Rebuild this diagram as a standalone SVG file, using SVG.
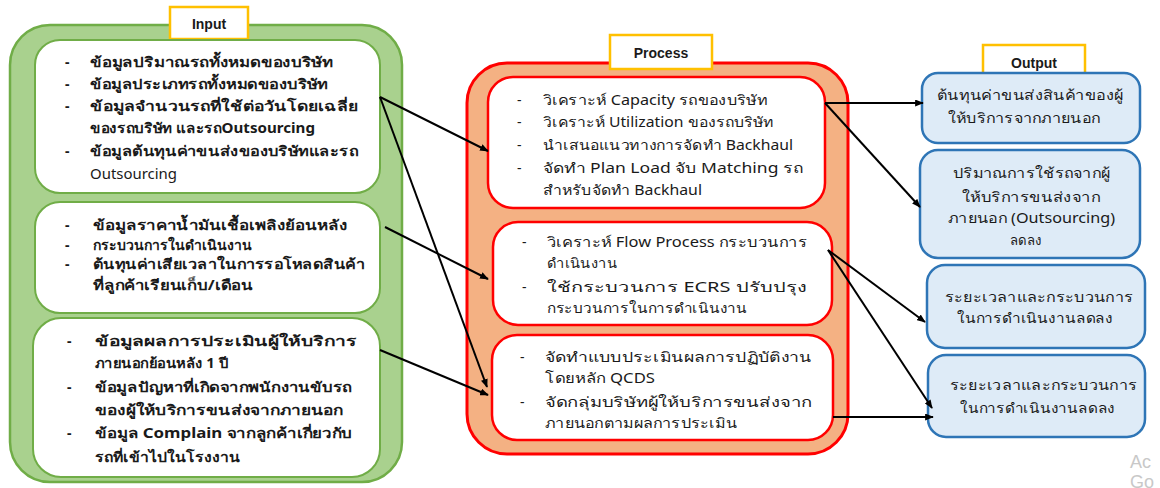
<svg xmlns="http://www.w3.org/2000/svg" width="1160" height="488" viewBox="0 0 1160 488">
<style>
  .t { font-family: "Noto Sans", "DejaVu Sans", sans-serif; font-size: 14px; fill: #1a1a1a; }
  .b { font-weight: bold; }
  .lbl { font-family: "Liberation Sans", Arial, sans-serif; font-size: 14px; font-weight: bold; fill: #1a1a1a; text-anchor: middle; }
  .lblbox { fill: #ffffff; stroke: #FFC000; stroke-width: 2.5; }
  .gout { fill: #A9D18E; stroke: #70AD47; stroke-width: 2.5; }
  .gin { fill: #ffffff; stroke: #70AD47; stroke-width: 2; }
  .rout { fill: #F4B183; stroke: #FF0000; stroke-width: 3; }
  .rin { fill: #ffffff; stroke: #FF0000; stroke-width: 2.5; }
  .bbox { fill: #DEEBF7; stroke: #2E75B6; stroke-width: 2.5; }
  .conn { stroke: #000000; stroke-width: 2; fill: none; marker-end: url(#ah); }
  .wm { font-family: "Liberation Sans", Arial, sans-serif; font-size: 18px; fill: #c8c8c8; }
</style>
<defs>
  <marker id="ah" viewBox="0 0 10 8" refX="9" refY="4" markerWidth="9" markerHeight="7" markerUnits="userSpaceOnUse" orient="auto">
    <path d="M0,0 L10,4 L0,8 Z" fill="#000000"/>
  </marker>
</defs>

<g id="input">
  <rect class="gout" x="10" y="25" width="392" height="457" rx="40" ry="40"/>
  <g id="input-label">
    <rect class="lblbox" x="170" y="7" width="78" height="32"/>
    <text class="lbl" x="209" y="29">Input</text>
  </g>
  <g id="input-1">
    <rect class="gin" x="35" y="40" width="345" height="153" rx="25" ry="25"/>
    <text class="t b" x="65" y="67">-</text>
    <text class="t b" x="90" y="67" textLength="243" lengthAdjust="spacingAndGlyphs">ข้อมูลปริมาณรถทั้งหมดของบริษัท</text>
    <text class="t b" x="65" y="89">-</text>
    <text class="t b" x="90" y="89" textLength="238" lengthAdjust="spacingAndGlyphs">ข้อมูลประเภทรถทั้งหมดของบริษัท</text>
    <text class="t b" x="65" y="111">-</text>
    <text class="t b" x="90" y="111" textLength="268" lengthAdjust="spacingAndGlyphs">ข้อมูลจำนวนรถที่ใช้ต่อวันโดยเฉลี่ย</text>
    <text class="t b" x="90" y="133" textLength="225" lengthAdjust="spacingAndGlyphs">ของรถบริษัท และรถOutsourcing</text>
    <text class="t b" x="65" y="156">-</text>
    <text class="t b" x="90" y="156" textLength="268" lengthAdjust="spacingAndGlyphs">ข้อมูลต้นทุนค่าขนส่งของบริษัทและรถ</text>
    <text class="t" x="90" y="179" textLength="87" lengthAdjust="spacingAndGlyphs">Outsourcing</text>
  </g>
  <g id="input-2">
    <rect class="gin" x="35" y="202" width="345" height="111" rx="25" ry="25"/>
    <text class="t b" x="65" y="230">-</text>
    <text class="t b" x="93" y="230" textLength="254" lengthAdjust="spacingAndGlyphs">ข้อมูลราคาน้ำมันเชื้อเพลิงย้อนหลัง</text>
    <text class="t b" x="65" y="250">-</text>
    <text class="t b" x="93" y="250" textLength="159" lengthAdjust="spacingAndGlyphs">กระบวนการในดำเนินงาน</text>
    <text class="t b" x="65" y="269">-</text>
    <text class="t b" x="93" y="269" textLength="272" lengthAdjust="spacingAndGlyphs">ต้นทุนค่าเสียเวลาในการรอโหลดสินค้า</text>
    <text class="t b" x="93" y="290" textLength="160" lengthAdjust="spacingAndGlyphs">ที่ลูกค้าเรียนเก็บ/เดือน</text>
  </g>
  <g id="input-3">
    <rect class="gin" x="33" y="318" width="347" height="159" rx="28" ry="28"/>
    <text class="t b" x="67" y="346">-</text>
    <text class="t b" x="95" y="346" textLength="262" lengthAdjust="spacingAndGlyphs">ข้อมูลผลการประเมินผู้ให้บริการ</text>
    <text class="t b" x="95" y="368" textLength="133" lengthAdjust="spacingAndGlyphs">ภายนอกย้อนหลัง 1 ปี</text>
    <text class="t b" x="67" y="392">-</text>
    <text class="t b" x="95" y="392" textLength="257" lengthAdjust="spacingAndGlyphs">ข้อมูลปัญหาที่เกิดจากพนักงานขับรถ</text>
    <text class="t b" x="95" y="415" textLength="248" lengthAdjust="spacingAndGlyphs">ของผู้ให้บริการขนส่งจากภายนอก</text>
    <text class="t b" x="67" y="438">-</text>
    <text class="t b" x="95" y="438" textLength="257" lengthAdjust="spacingAndGlyphs">ข้อมูล Complain จากลูกค้าเกี่ยวกับ</text>
    <text class="t b" x="95" y="462" textLength="145" lengthAdjust="spacingAndGlyphs">รถที่เข้าไปในโรงงาน</text>
  </g>
</g>

<g id="process">
  <rect class="rout" x="467" y="63" width="381" height="391" rx="40" ry="40"/>
  <g id="process-label">
    <rect class="lblbox" x="610" y="35" width="102" height="34"/>
    <text class="lbl" x="661" y="58">Process</text>
  </g>
  <g id="process-1">
    <rect class="rin" x="488" y="77" width="337" height="131" rx="25" ry="25"/>
    <text class="t" x="517" y="105">-</text>
    <text class="t" x="543" y="105" textLength="224" lengthAdjust="spacingAndGlyphs">วิเคราะห์ Capacity รถของบริษัท</text>
    <text class="t" x="517" y="127">-</text>
    <text class="t" x="543" y="127" textLength="230" lengthAdjust="spacingAndGlyphs">วิเคราะห์ Utilization ของรถบริษัท</text>
    <text class="t" x="517" y="150">-</text>
    <text class="t" x="543" y="150" textLength="250" lengthAdjust="spacingAndGlyphs">นำเสนอแนวทางการจัดทำ Backhaul</text>
    <text class="t" x="517" y="173">-</text>
    <text class="t" x="543" y="173" textLength="260" lengthAdjust="spacingAndGlyphs">จัดทำ  Plan Load จับ  Matching รถ</text>
    <text class="t" x="543" y="195" textLength="159" lengthAdjust="spacingAndGlyphs">สำหรับจัดทำ Backhaul</text>
  </g>
  <g id="process-2">
    <rect class="rin" x="493" y="222" width="339" height="103" rx="25" ry="25"/>
    <text class="t" x="522" y="247">-</text>
    <text class="t" x="547" y="247" textLength="260" lengthAdjust="spacingAndGlyphs">วิเคราะห์ Flow Process กระบวนการ</text>
    <text class="t" x="547" y="268" textLength="70" lengthAdjust="spacingAndGlyphs">ดำเนินงาน</text>
    <text class="t" x="522" y="292">-</text>
    <text class="t" x="547" y="292" textLength="260" lengthAdjust="spacingAndGlyphs">ใช้กระบวนการ ECRS ปรับปรุง</text>
    <text class="t" x="547" y="313" textLength="200" lengthAdjust="spacingAndGlyphs">กระบวนการในการดำเนินงาน</text>
  </g>
  <g id="process-3">
    <rect class="rin" x="492" y="335" width="341" height="105" rx="25" ry="25"/>
    <text class="t" x="520" y="362">-</text>
    <text class="t" x="545" y="362" textLength="267" lengthAdjust="spacingAndGlyphs">จัดทำแบบประเมินผลการปฏิบัติงาน</text>
    <text class="t" x="545" y="383" textLength="110" lengthAdjust="spacingAndGlyphs">โดยหลัก QCDS</text>
    <text class="t" x="520" y="407">-</text>
    <text class="t" x="545" y="407" textLength="267" lengthAdjust="spacingAndGlyphs">จัดกลุ่มบริษัทผู้ให้บริการขนส่งจาก</text>
    <text class="t" x="545" y="428" textLength="192" lengthAdjust="spacingAndGlyphs">ภายนอกตามผลการประเมิน</text>
  </g>
</g>

<g id="output">
  <g id="output-label">
    <rect class="lblbox" x="983" y="45" width="102" height="32"/>
    <text class="lbl" x="1034" y="68">Output</text>
  </g>
  <g id="output-1">
    <rect class="bbox" x="922" y="73" width="218" height="70" rx="16" ry="16"/>
    <text class="t" x="937" y="100" textLength="186" lengthAdjust="spacingAndGlyphs">ต้นทุนค่าขนส่งสินค้าของผู้</text>
    <text class="t" x="948" y="123" textLength="152" lengthAdjust="spacingAndGlyphs">ให้บริการจากภายนอก</text>
  </g>
  <g id="output-2">
    <rect class="bbox" x="920" y="150" width="220" height="108" rx="18" ry="18"/>
    <text class="t" x="953" y="178" textLength="157" lengthAdjust="spacingAndGlyphs">ปริมาณการใช้รถจากผู้</text>
    <text class="t" x="962" y="202" textLength="138" lengthAdjust="spacingAndGlyphs">ให้บริการขนส่งจาก</text>
    <text class="t" x="948" y="223" textLength="167" lengthAdjust="spacingAndGlyphs">ภายนอก (Outsourcing)</text>
    <text class="t" x="1010" y="245" textLength="32" lengthAdjust="spacingAndGlyphs">ลดลง</text>
  </g>
  <g id="output-3">
    <rect class="bbox" x="927" y="265" width="218" height="83" rx="18" ry="18"/>
    <text class="t" x="945" y="302" textLength="188" lengthAdjust="spacingAndGlyphs">ระยะเวลาและกระบวนการ</text>
    <text class="t" x="957" y="323" textLength="156" lengthAdjust="spacingAndGlyphs">ในการดำเนินงานลดลง</text>
  </g>
  <g id="output-4">
    <rect class="bbox" x="928" y="355" width="217" height="82" rx="18" ry="18"/>
    <text class="t" x="950" y="390" textLength="187" lengthAdjust="spacingAndGlyphs">ระยะเวลาและกระบวนการ</text>
    <text class="t" x="960" y="413" textLength="155" lengthAdjust="spacingAndGlyphs">ในการดำเนินงานลดลง</text>
  </g>
</g>

<g id="connectors">
  <line class="conn" x1="380" y1="97" x2="488" y2="151"/>
  <line class="conn" x1="380" y1="97" x2="487" y2="387"/>
  <line class="conn" x1="385" y1="227" x2="488" y2="279"/>
  <line class="conn" x1="380" y1="350" x2="488" y2="395"/>
  <line class="conn" x1="825" y1="103" x2="923" y2="103"/>
  <line class="conn" x1="825" y1="103" x2="920" y2="207"/>
  <line class="conn" x1="828" y1="250" x2="925" y2="322"/>
  <line class="conn" x1="828" y1="250" x2="932" y2="408"/>
  <line class="conn" x1="833" y1="417" x2="933" y2="417"/>
</g>

<text class="wm" x="1130" y="468">Ac</text>
<text class="wm" x="1130" y="488">Go</text>
</svg>
